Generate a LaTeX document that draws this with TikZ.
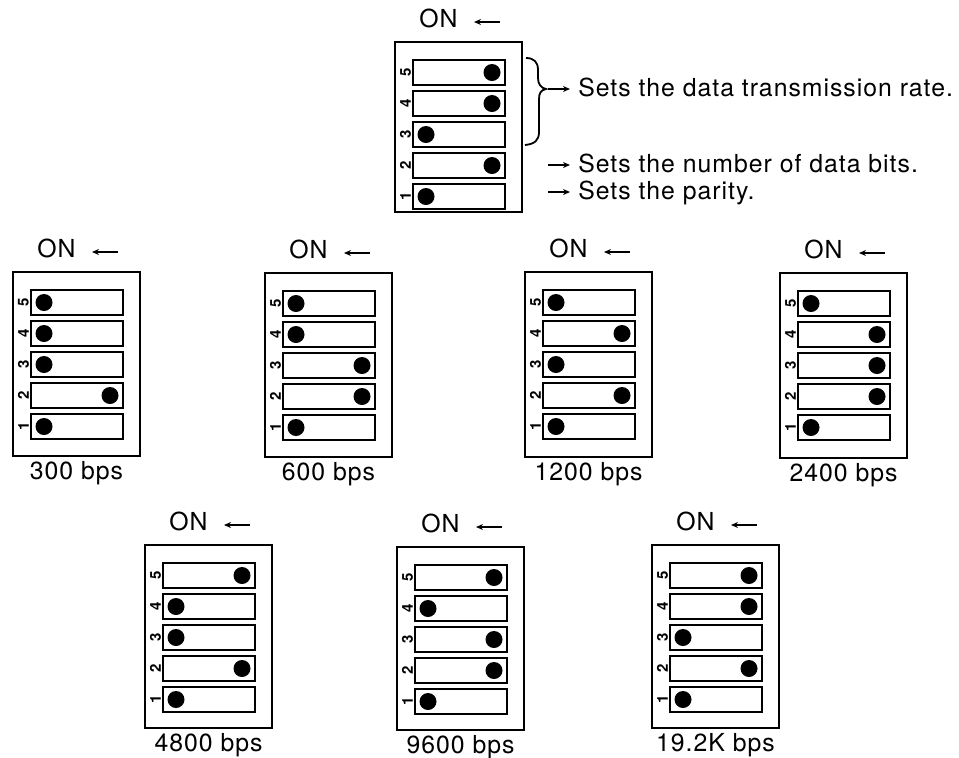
\documentclass[tikz,border=0pt]{standalone}
\usepackage{fontspec}
\setmainfont{TeX Gyre Heros}[LetterSpace=4]
\usetikzlibrary{calc,arrows.meta}

\tikzset{
  dipbox/.style={line width=1.4pt},
  dipslot/.style={line width=0.9pt},
  dipnum/.style={font=\fontsize{7.5}{7.5}\selectfont\bfseries, rotate=90, inner sep=0pt},
  txt/.style={font=\fontsize{12.4}{14}\selectfont, inner sep=0pt},
  thinarrow/.style={-{Stealth[length=3.5pt,width=3pt]}, line width=0.6pt},
  bracestyle/.style={line width=0.9pt},
}

% #1 name, #2 x, #3 y (top left corner), #4 height, #5 states of 5..1, #6 label
\newcommand{\dipswitch}[6]{%
  \begin{scope}[shift={(#2,#3)}]
    \draw[dipbox] (0,0) rectangle (127,#4);
    \node[txt, anchor=base west] (#1-on) at (24,-15) {ON};
    \coordinate (#1-a) at (105,-20);
    \draw[thinarrow] (#1-a) -- ++(-26,0);
    \foreach \s [count=\i] in {#5} {
      \pgfmathsetmacro{\yy}{18+31*(\i-1)}
      \pgfmathtruncatemacro{\nn}{6-\i}
      \draw[dipslot] (18,\yy) rectangle (110,\yy+25);
      \node[dipnum] (#1-n\nn) at (10.5,\yy+12.5) {\nn};
      \if\s L \fill (31,\yy+12.5) circle (8.5); \else \fill (97,\yy+12.5) circle (8.5); \fi
    }
    \ifx\relax#6\relax\else
      \node[txt, anchor=base] (#1-lbl) at (63.5,#4+23) {#6};
    \fi
  \end{scope}}

\begin{document}
\begin{tikzpicture}[x=0.5pt,y=-0.5pt]
  \useasboundingbox (0,0) rectangle (959,757);

  %%%%% switch settings %%%%%
  \dipswitch{top}{395}{42}{170}{R,R,L,R,L}{}

  \node[txt, anchor=base west] (desc1) at (578,96) {Sets the data transmission rate.};
  \node[txt, anchor=base west] (desc2) at (578,172) {Sets the number of data bits.};
  \node[txt, anchor=base west] (desc3) at (578,199) {Sets the parity.};
  \foreach \d in {desc1,desc2,desc3}
    \draw[thinarrow] ($(\d.base west)+(-30,-7)$) -- ($(\d.base west)+(-8,-7)$);

  \draw[bracestyle] (526,58) .. controls (534,58) and (538,62) .. (538,70) -- (538,78)
    .. controls (538,84) and (541,88) .. (546,89)
    .. controls (541,90) and (539,93) .. (539,99) -- (539,132)
    .. controls (539,140) and (535,144) .. (525,145);

  %%%%% transmission rates %%%%%
  \dipswitch{s300}{13}{272}{184}{L,L,L,R,L}{300 bps}
  \dipswitch{s600}{265}{273}{184}{L,L,R,R,L}{600 bps}
  \dipswitch{s1200}{525}{272}{185}{L,R,L,R,L}{1200 bps}
  \dipswitch{s2400}{780}{273}{185}{L,R,R,R,L}{2400 bps}

  \dipswitch{s4800}{145}{545}{183}{R,L,L,R,L}{4800 bps}
  \dipswitch{s9600}{397}{547}{183}{R,L,R,R,L}{9600 bps}
  \dipswitch{s19k}{652}{545}{183}{R,R,L,R,L}{19.2K bps}
\end{tikzpicture}
\end{document}
